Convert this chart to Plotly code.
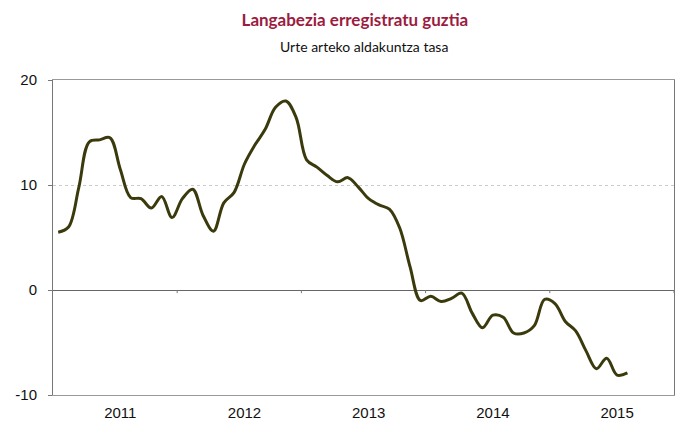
import numpy as np
import plotly.graph_objects as go

# Monthly year-on-year change (%), Jan 2011 .. Aug 2015
values = [5.5, 6.0, 9.8, 14.1, 14.3, 14.5, 11.5, 8.8, 8.7, 7.8, 8.9, 6.9,
          8.7, 9.6, 7.1, 5.6, 8.3, 9.3, 12.0, 13.8, 15.3, 17.4, 18.0, 16.4,
          12.4, 11.7, 10.9, 10.3, 10.7, 9.8, 8.7, 8.1, 7.7, 5.9, 2.2, -1.0,
          -0.6, -1.1, -0.8, -0.3, -2.2, -3.6, -2.4, -2.6, -4.1, -4.1, -3.4, -0.9,
          -1.3, -3.0, -3.9, -5.8, -7.5, -6.5, -8.1, -7.9]
years = ["2011", "2012", "2013", "2014", "2015"]
months_per_year = 12
y_ticks = [-10, 0, 10, 20]
y_tick_text = ["-10", "0", "10", "20"]

x = np.arange(len(values))
year_label_pos = [i * months_per_year + 6 for i in range(len(years))]
boundaries = [i * months_per_year - 0.5 for i in range(1, len(years) + 1)]

fig = go.Figure()

# small tick marks on the zero line at year boundaries
tx, ty = [], []
for b in boundaries:
    tx += [b, b, None]
    ty += [0, -0.3, None]
fig.add_trace(go.Scatter(x=tx, y=ty, mode="lines",
                         line=dict(color="#777777", width=1),
                         hoverinfo="skip", showlegend=False))

fig.add_trace(go.Scatter(x=x, y=values, mode="lines",
                         line=dict(color="#3b3a0c", width=3, shape="spline", smoothing=1.0),
                         showlegend=False))

fig.update_layout(
    width=700, height=430,
    margin=dict(l=53, r=26, t=80, b=35, autoexpand=False),
    paper_bgcolor="white", plot_bgcolor="white",
    title=dict(
        text="<b>Langabezia erregistratu guztia</b>",
        font=dict(family="Lato", size=17, color="#9b1c3f"),
        x=0.507, xanchor="center", y=1 - 20 / 430, yanchor="middle",
    ),
    annotations=[dict(
        text="Urte arteko aldakuntza tasa", xref="paper", yref="paper",
        x=0.5, y=1.0, xanchor="center", yanchor="middle",
        yshift=34, showarrow=False,
        font=dict(family="Lato", size=14, color="#111111"),
    )],
    font=dict(family="Liberation Sans", size=15, color="#111111"),
)

fig.update_xaxes(
    range=[-0.5, len(years) * months_per_year - 0.5],
    tickmode="array", tickvals=year_label_pos, ticktext=years,
    showgrid=False, zeroline=False, automargin=False,
    showline=True, linecolor="#999999", linewidth=1, mirror=True,
    ticks="", ticklabelstandoff=4,
)
fig.update_yaxes(
    range=[-10, 20], tickmode="array", tickvals=y_ticks, ticktext=y_tick_text,
    automargin=False,
    showgrid=True, gridcolor="#cccccc", griddash="dot", gridwidth=1,
    zeroline=True, zerolinecolor="#666666", zerolinewidth=1,
    showline=True, linecolor="#777777", linewidth=1, mirror=True,
    ticks="outside", ticklen=4, tickcolor="#777777", ticklabelstandoff=8,
)

fig.write_html("out.html")
